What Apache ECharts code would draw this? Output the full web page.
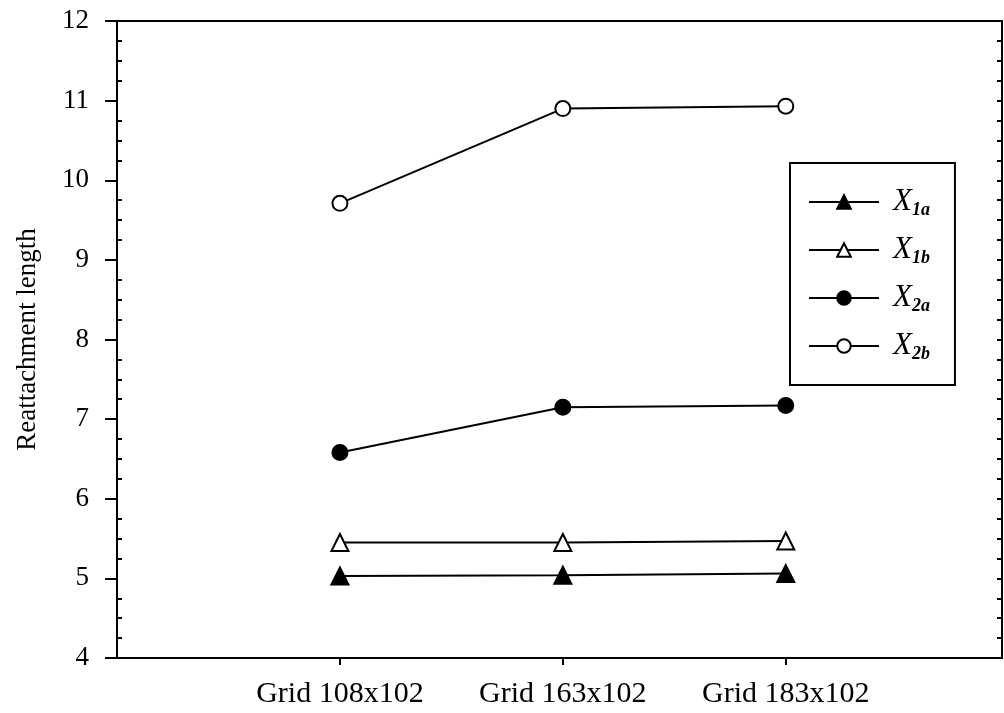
<!DOCTYPE html>
<html>
<head>
<meta charset="utf-8">
<script src="https://cdn.jsdelivr.net/npm/echarts@6/dist/echarts.min.js"></script>
<style>html,body{margin:0;padding:0;background:#fff;}#c{width:1004px;height:713px;}</style>
</head>
<body>
<div id="c"></div>
<script>
// Data
var categories = ['Grid 108x102', 'Grid 163x102', 'Grid 183x102'];
var seriesNames = ['X1a', 'X1b', 'X2a', 'X2b'];
var x1a = [5.03, 5.04, 5.06];
var x1b = [5.45, 5.45, 5.47];
var x2a = [6.58, 7.15, 7.17];
var x2b = [9.71, 10.90, 10.93];
var yTicks = [4, 5, 6, 7, 8, 9, 10, 11, 12];

var FONT = '"Liberation Serif", "Times New Roman", serif';
function pts(arr) { return arr.map(function (v, i) { return [i + 1, v]; }); }

var chart = echarts.init(document.getElementById('c'), null, { renderer: 'canvas' });
var markers = [
  { name: 'X1a', data: x1a, symbol: 'triangle', size: 17, fill: '#000' },
  { name: 'X1b', data: x1b, symbol: 'triangle', size: 17, fill: '#fff' },
  { name: 'X2a', data: x2a, symbol: 'circle', size: 15, fill: '#000' },
  { name: 'X2b', data: x2b, symbol: 'circle', size: 15, fill: '#fff' }
];

chart.setOption({
  backgroundColor: '#fff',
  animation: false,
  grid: { left: 117, right: 2, top: 21, bottom: 55, show: true, borderColor: '#000', borderWidth: 2, backgroundColor: 'transparent' },
  legend: {
    orient: 'vertical',
    left: 790, top: 163,
    padding: [22, 25, 22, 18],
    itemWidth: 70, itemHeight: 17, itemGap: 14,
    borderColor: '#000', borderWidth: 2, backgroundColor: '#fff',
    data: seriesNames,
    formatter: function (n) { return '{x|' + n.charAt(0) + '}{s|' + n.slice(1) + '}'; },
    textStyle: {
      padding: [0, 0, 0, 9],
      rich: {
        x: { fontFamily: FONT, fontStyle: 'italic', fontSize: 31, color: '#000', lineHeight: 31 },
        s: { fontFamily: FONT, fontStyle: 'italic', fontWeight: 'bold', fontSize: 18, color: '#000', padding: [16, 0, 0, 0], lineHeight: 31 }
      }
    }
  },
  xAxis: {
    type: 'value', min: 0, max: 3.97,
    axisLine: { show: true, onZero: false, lineStyle: { color: '#000', width: 2 } },
    axisTick: { show: true, customValues: [1, 2, 3], length: 7, lineStyle: { color: '#000', width: 2 } },
    axisLabel: { customValues: [1, 2, 3], formatter: function (v) { return categories[Math.round(v) - 1] || ''; },
      fontFamily: FONT, fontSize: 30, color: '#000', margin: 21 },
    splitLine: { show: false }
  },
  yAxis: [{
    type: 'value', min: 4, max: 12, interval: 1, position: 'left',
    name: 'Reattachment length', nameLocation: 'middle', nameGap: 76, nameRotate: 90,
    nameTextStyle: { fontFamily: FONT, fontSize: 27, color: '#000' },
    axisLine: { show: true, lineStyle: { color: '#000', width: 2 } },
    axisTick: { show: true, inside: false, length: 12, lineStyle: { color: '#000', width: 2 } },
    minorTick: { show: true, splitNumber: 4, length: -5, lineStyle: { color: '#000', width: 2 } },
    axisLabel: { fontFamily: FONT, fontSize: 27, color: '#000', margin: 28,
      customValues: yTicks },
    splitLine: { show: false }
  }, {
    type: 'value', min: 4, max: 12, interval: 1, position: 'right',
    axisLine: { show: true, lineStyle: { color: '#000', width: 2 } },
    axisTick: { show: true, inside: true, length: 5, lineStyle: { color: '#000', width: 2 } },
    minorTick: { show: true, splitNumber: 4, length: 5, lineStyle: { color: '#000', width: 2 } },
    axisLabel: { show: false },
    splitLine: { show: false }
  }],
  series: markers.map(function (m) {
    return {
      name: m.name, type: 'line', yAxisIndex: 0,
      data: pts(m.data),
      symbol: m.symbol, symbolSize: m.size, showSymbol: true,
      lineStyle: { color: '#000', width: 2 },
      itemStyle: { color: m.fill, borderColor: '#000', borderWidth: 2 },
      emphasis: { disabled: true }
    };
  })
});
</script>
</body>
</html>
